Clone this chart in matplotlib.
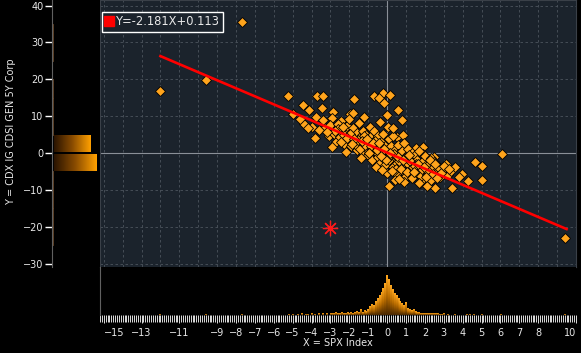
import numpy as np
import matplotlib
matplotlib.use('Agg')
import matplotlib.pyplot as plt
from matplotlib.colors import LinearSegmentedColormap
from matplotlib.lines import Line2D

# scatter data (SPX weekly % change vs CDX IG spread change)
x_vals = [
    -12.0, -9.6, -7.7, 9.4,
    -5.24, -3.70, -3.39, -1.75, -4.44, -4.97, -4.13, -3.44, -2.86, -2.91, -1.96, -4.39, -3.97, -3.76,
    -3.28, -2.43, -2.59, -3.07, -1.85,
    -0.69, -0.21, 0.16, -0.42, -0.16, 0.58, 0.0, 0.79, -1.80, 0.05, 0.53, 0.85, 1.53, 1.32, 0.11, 1.75,
    6.08, 4.66, 5.03, 3.97, 3.02, 4.29, 5.03, 2.54, 3.44, 1.90, 1.90, 2.49, 2.12, 1.90, 2.12,
    -3.0, -2.8, -2.7, -2.6, -2.5, -2.4, -2.3, -2.2, -2.1, -2.0,
    -1.9, -1.9, -1.8, -1.7, -1.6, -1.6, -1.5, -1.5, -1.4, -1.3,
    -1.3, -1.2, -1.1, -1.1, -1.0, -1.0, -0.9, -0.9, -0.8, -0.8,
    -0.7, -0.7, -0.6, -0.6, -0.5, -0.5, -0.4, -0.4, -0.3, -0.3,
    -0.2, -0.2, -0.1, -0.1, 0.0, 0.0, 0.1, 0.1, 0.2, 0.2,
    0.3, 0.3, 0.4, 0.4, 0.5, 0.5, 0.6, 0.6, 0.7, 0.7,
    0.8, 0.8, 0.9, 0.9, 1.0, 1.0, 1.1, 1.1, 1.2, 1.2,
    1.3, 1.3, 1.4, 1.5, 1.5, 1.6, 1.6, 1.7, 1.8, 1.8,
    1.9, 2.0, 2.0, 2.1, 2.2, 2.3, 2.3, 2.4, 2.5, 2.6,
    2.7, 2.8, 2.9, 3.1, 3.2, 3.4, 3.6, 3.8,
    -3.4, -3.6, -2.0, -1.2, -0.4, 0.3, -2.9, -2.2, -1.4, -0.6,
    0.9, 0.4, 1.7, -4.2, -3.8, -4.6,
    -2.6, -2.3, -1.95, -1.65, -1.45, -1.15, -0.85, -0.55, -0.25, 0.05,
    0.35, 0.65, 0.95, 1.25, 1.55, 1.85, 2.15, 2.45, 2.75, -0.05,
    0.45, 0.75, 1.05, 1.35, -0.35, -0.65, -0.95, -1.25, -1.55, -2.45,
    -2.75, -2.15, -1.75, -1.35, -1.05, -0.75, -0.45, -0.15, 0.15, 0.55,
    0.85, 1.15, 1.45, 1.65, 1.95, 2.25, 2.55, 2.85, 3.0, 3.3,
    -3.2, -2.35, -1.85, -0.95, 0.25, 1.4, 2.05, 2.65, 0.65, -0.25,
]
y_vals = [
    16.8, 19.8, 35.5, -23.0,
    15.4, 15.4, 15.4, 14.6, 13.0, 10.6, 11.7, 12.2, 11.1, 9.5, 10.6, 7.9, 7.0, 9.8,
    6.8, 8.7, 6.0, 4.6, 6.0,
    15.4, 16.2, 15.7, 15.0, 13.6, 11.7, 10.3, 8.9, 10.8, 7.0, 4.3, 4.9, 1.4, -0.5, -8.9, -8.1,
    -0.3, -2.4, -3.5, -5.7, -4.1, -7.6, -7.3, -9.5, -9.5, 1.6, -0.3, -1.1, -3.5, -7.0, -8.9,
    7.5, 5.2, 3.1, 8.0, 4.4, 6.6, 2.5, 5.8, 7.4, 3.6,
    4.9, 1.8, 6.9, 3.0, 5.5, 0.9, 4.1, 8.2, 2.4, 6.1,
    0.2, 3.7, 5.0, 1.5, 2.9, -0.6, 4.3, 7.1, 1.1, -1.8,
    3.4, 5.9, 0.4, 2.2, -1.2, 4.6, 1.6, -2.6, 3.0, 0.0,
    -1.4, 5.3, 2.0, -3.3, 0.8, -5.4, 3.7, -2.0, -0.6, 1.9,
    -3.8, 4.6, -1.2, 0.9, -2.7, -5.6, 2.3, -0.2, -3.4, -1.6,
    0.5, -4.6, -2.3, 2.8, -0.9, -6.2, -3.0, 1.2, -1.9, -4.9,
    0.1, -6.9, -2.8, -4.0, -0.6, -5.5, -1.8, 0.6, -3.4, -6.1,
    -2.2, -4.5, -0.8, -5.9, -3.0, -1.4, -7.2, -4.2, -2.5, -5.3,
    -3.6, -6.6, -4.8, -2.9, -6.0, -5.0, -3.8, -6.4,
    8.9, 6.2, 9.3, 9.7, 8.4, 6.9, 1.6, 0.3, -1.4, -3.9,
    -7.8, -7.4, -8.2, 6.8, 4.0, 9.2,
    6.4, 4.9, 5.1, 2.1, 1.2, 2.3, 1.9, 0.9, 1.3, -1.0,
    -0.3, -2.2, -1.4, -2.4, -3.1, -4.2, -4.8, -5.7, -4.1, -1.9,
    -4.3, -4.4, -5.1, -3.7, -0.8, 3.2, 0.1, 4.6, 3.6, 2.9,
    6.0, 4.0, 3.9, 3.3, 3.8, 2.6, 2.8, 1.0, -0.1, -1.0,
    -1.9, -0.4, -3.5, -2.9, -3.8, -2.0, -3.0, -5.5, -3.4, -4.3,
    5.6, 7.0, 2.4, 0.0, -4.9, -5.2, -6.6, -6.9, -7.0, -4.5,
]
current_x, current_y = -3.0, -20.3
slope, intercept = -2.181, 0.113
fit_x_range = [-12.0, 9.5]

# histogram of X (bottom panel), bin centres -3.0 .. 3.0 step 0.1
x_hist_counts = [
    2, 2, 2, 3, 2, 2, 3, 2, 2, 3,
    2, 3, 2, 3, 4, 3, 6, 3, 5, 4,
    6, 9, 11, 10, 14, 17, 20, 23, 27, 32,
    40, 36, 30, 26, 22, 20, 17, 14, 12, 10,
    13, 7, 6, 5, 6, 4, 3, 3, 2, 2,
    2, 2, 2, 2, 2, 2, 2, 2, 1, 1,
    2,
]
x_hist_tail_pos = [-12.0, -9.6, -7.7, -5.2, -5.0, -4.7, -4.5, -4.3, -4.2, -4.0, -3.8, -3.6, -3.4, -3.2,
                   3.2, 3.6, 4.2, 4.4, 4.6, 5.0, 6.0, 9.4]
x_hist_tail_counts = [1, 1, 1, 1, 1, 1, 2, 1, 1, 2, 1, 2, 2, 2, 1, 1, 1, 1, 1, 1, 1, 1]

# histogram of Y (left panel), 5-unit bins
y_bin_lo = [30, 25, 15, 10, 5, 0, -5, -10, -15, -20, -25]
y_hist_counts = [1, 1, 1, 1, 1, 86, 100, 1, 1, 1, 1]

x_ticks = [-15, -13, -11, -9, -8, -7, -6, -5, -4, -3, -2, -1, 0, 1, 2, 3, 4, 5, 6, 7, 8, 10]
y_ticks = [40, 30, 20, 10, 0, -10, -20, -30]

BG = '#1b232c'
ORANGE = '#ffa41c'
TXT = '#e8e8e8'

W, H = 581, 353
fig = plt.figure(figsize=(W / 100, H / 100), dpi=100, facecolor='black')


def frac(x0, y0, x1, y1):
    return [x0 / W, 1 - y1 / H, (x1 - x0) / W, (y1 - y0) / H]


ax = fig.add_axes(frac(100, 0, 576, 267))
axl = fig.add_axes(frac(52, 0, 100, 267), sharey=ax)
axb = fig.add_axes(frac(100, 267, 576, 315), sharex=ax)

xlim = (-15.2, 10.0)
ylim = (-30.9, 41.5)

# main scatter
ax.set_facecolor(BG)
for v in range(-15, 11):
    if v != 0:
        ax.axvline(v, color='#4b535c', lw=0.6, ls=(0, (3, 3)), zorder=0)
for v in range(-30, 50, 10):
    if v != 0:
        ax.axhline(v, color='#4b535c', lw=0.6, ls=(0, (3, 3)), zorder=0)
ax.axhline(0, color='#8a9098', lw=0.8, zorder=0)
ax.axvline(0, color='#8a9098', lw=0.8, zorder=0)

ax.scatter(x_vals, y_vals, marker='D', s=26, c=ORANGE, edgecolors='black', linewidths=0.6, zorder=3)
fx = np.array(fit_x_range)
ax.plot(fx, slope * fx + intercept, color='#ff0000', lw=1.9, zorder=4)
ax.plot([current_x], [current_y], marker=(8, 2, 0), ms=11, mew=0.9, color='#ff1a1a', zorder=5)

ax.set_xlim(*xlim)
ax.set_ylim(*ylim)
ax.tick_params(left=False, bottom=False, labelleft=False, labelbottom=False)
for s in ax.spines.values():
    s.set_color('#3a4048')

handle = Line2D([], [], marker='s', ls='none', color='#ff0000', ms=7)
leg = ax.legend([handle], ['Y=%.3fX+%.3f' % (slope, intercept)], loc='upper left',
                bbox_to_anchor=(0.0, 0.965), frameon=True, fancybox=False,
                facecolor=BG, edgecolor='white', framealpha=1, fontsize=8.3,
                handlelength=0.6, handletextpad=0.25, borderpad=0.3, borderaxespad=0.2)
leg.get_frame().set_linewidth(1.0)
leg.set_zorder(2)
for t in leg.get_texts():
    t.set_color(TXT)

# left histogram of Y, horizontal gradient bars
cmap_l = LinearSegmentedColormap.from_list('lg', ['#2a1400', '#8a4c00', '#ffa000'])
grad = np.linspace(0, 1, 64).reshape(1, -1)
axl.set_facecolor('black')
ymax_count = 112.0
for lo, c in zip(y_bin_lo, y_hist_counts):
    if c > 5:
        axl.imshow(grad, cmap=cmap_l, aspect='auto', extent=[4, c + 4, lo + 0.25, lo + 4.75], zorder=2)
    else:
        axl.plot([3, 3], [lo, lo + 5], color='#6a4a2a', lw=0.6)
axl.set_xlim(0, ymax_count)
axl.set_ylim(*ylim)
axl.set_yticks(y_ticks)
axl.set_xticks([])
axl.tick_params(axis='y', colors='white', length=5, width=1, pad=1, labelsize=7, labelcolor=TXT)
for k in ['top', 'right', 'bottom']:
    axl.spines[k].set_visible(False)
axl.spines['left'].set_color('#606060')

# bottom histogram of X, vertical gradient bars
cmap_b = LinearSegmentedColormap.from_list('bg', ['#4a2800', '#b86c00', '#ffa820'])
vgrad = np.linspace(0, 1, 64).reshape(-1, 1)
centers = np.round(np.arange(-3.0, 3.01, 0.1), 2)
axb.set_facecolor('black')
bw = 0.1
for xc, c in zip(list(centers) + x_hist_tail_pos, x_hist_counts + x_hist_tail_counts):
    axb.imshow(vgrad, cmap=cmap_b, origin='lower', aspect='auto',
               extent=[xc - bw / 2, xc + bw / 2, 0, c], zorder=2)
axb.set_xlim(*xlim)
axb.set_ylim(0, 48)
axb.set_yticks([])
axb.set_xticks(x_ticks)
axb.set_xticks(np.arange(-15.2, 10.01, 0.1), minor=True)
axb.tick_params(axis='x', which='both', colors='white', width=0.6, labelsize=7, labelcolor=TXT)
axb.tick_params(axis='x', which='major', length=6, pad=3)
axb.tick_params(axis='x', which='minor', length=5)
labels = axb.get_xticklabels()
labels[0].set_horizontalalignment('left')
labels[-1].set_horizontalalignment('right')
for k in ['top', 'right', 'bottom']:
    axb.spines[k].set_visible(False)
axb.spines['left'].set_color('#606060')

fig.text(0.019, 0.626, 'Y = CDX IG CDSI GEN 5Y Corp', rotation=90, color=TXT,
         fontsize=7, ha='center', va='center')
fig.text(0.582, 0.028, 'X = SPX Index', color=TXT, fontsize=7, ha='center', va='center')

fig.savefig('out.png', dpi=100, facecolor='black')
